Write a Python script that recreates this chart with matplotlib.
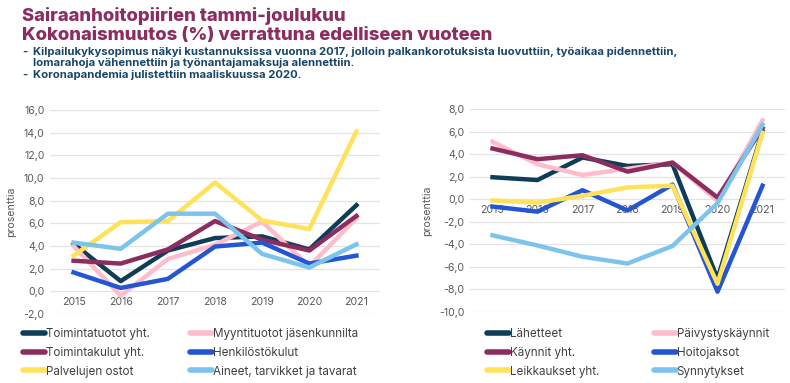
import matplotlib.pyplot as plt
from matplotlib.lines import Line2D

plt.rcParams['font.family'] = ['Inter', 'DejaVu Sans']

years = ['2015', '2016', '2017', '2018', '2019', '2020', '2021']

# vasen kuva: talous
left_names = ['Toimintatuotot yht.', 'Myyntituotot jäsenkunnilta', 'Toimintakulut yht.',
              'Henkilöstökulut', 'Palvelujen ostot', 'Aineet, tarvikket ja tavarat']
toimintatuotot = [4.2, 0.9, 3.6, 4.7, 4.85, 3.7, 7.6]
myyntituotot = [4.0, -0.4, 2.85, 4.1, 6.15, 2.2, 6.45]
toimintakulut = [2.7, 2.45, 3.7, 6.2, 4.55, 3.6, 6.65]
henkilostokulut = [1.67, 0.3, 1.1, 3.95, 4.3, 2.45, 3.15]
palvelujen_ostot = [3.15, 6.1, 6.2, 9.6, 6.25, 5.5, 14.1]
aineet = [4.3, 3.75, 6.85, 6.85, 3.3, 2.1, 4.15]

# oikea kuva: toiminta
right_names = ['Lähetteet', 'Päivystyskäynnit', 'Käynnit yht.',
               'Hoitojaksot', 'Leikkaukset yht.', 'Synnytykset']
lahetteet = [1.95, 1.7, 3.7, 2.95, 3.1, -7.05, 6.0]
paivystys = [5.1, 3.1, 2.15, 2.7, 3.25, -0.15, 7.0]
kaynnit = [4.5, 3.55, 3.9, 2.45, 3.25, 0.15, 6.3]
hoitojaksot = [-0.65, -1.1, 0.8, -1.0, 1.3, -8.2, 1.2]
leikkaukset = [-0.1, -0.3, 0.3, 1.05, 1.2, -7.5, 5.9]
synnytykset = [-3.2, -4.1, -5.1, -5.7, -4.15, -0.35, 6.6]

colors = ['#0f3d58', '#ffbccb', '#8c2d5f', '#2456d3', '#ffe15a', '#7cc3ee']
title_col = '#8c2d5f'
navy = '#17466a'
W, H = 790, 383

fig = plt.figure(figsize=(7.9, 3.83), dpi=100)

fig.text(22 / W, 1 - 16 / H, 'Sairaanhoitopiirien tammi-joulukuu', color=title_col,
         fontsize=13.3, fontweight='heavy', va='center')
fig.text(22 / W, 1 - 35 / H, 'Kokonaismuutos (%) verrattuna edelliseen vuoteen', color=title_col,
         fontsize=13.3, fontweight='heavy', va='center')
notes = [('-', 'Kilpailukykysopimus näkyi kustannuksissa vuonna 2017, jolloin palkankorotuksista luovuttiin, työaikaa pidennettiin,'),
         ('', 'lomarahoja vähennettiin ja työnantajamaksuja alennettiin.'),
         ('-', 'Koronapandemia julistettiin maaliskuussa 2020.')]
for (dash, t), y in zip(notes, [52, 63.5, 75]):
    fig.text(22 / W, 1 - y / H, dash, color=navy, fontsize=8.15, fontweight='bold', va='center')
    fig.text(33 / W, 1 - y / H, t, color=navy, fontsize=8.15, fontweight='bold', va='center')


def style(ax, lo, hi, step):
    ax.set_xticks(range(len(years)))
    ax.set_xticklabels(years)
    ticks = [lo + step * i for i in range(int((hi - lo) / step) + 1)]
    ax.set_yticks(ticks)
    ax.set_yticklabels([f'{v:.1f}'.replace('.', ',') for v in ticks])
    ax.set_ylim(lo, hi)
    ax.set_xlim(-0.5, 6.5)
    ax.grid(axis='y', color='#e3e3e3', lw=0.9)
    ax.set_axisbelow(True)
    for s in ['top', 'right', 'left']:
        ax.spines[s].set_visible(False)
    ax.spines['bottom'].set_position(('data', 0))
    ax.spines['bottom'].set_visible(False)
    ax.tick_params(length=0, labelsize=7.6, colors='#595959', pad=4)
    ax.set_ylabel('prosenttia', fontsize=7.6, color='#595959', labelpad=5)


handles = [Line2D([], [], color=c, lw=4, solid_capstyle='round') for c in colors]


def legend_col(idx, names, x, y):
    fig.legend([handles[i] for i in idx], [names[i] for i in idx],
               loc='upper left', bbox_to_anchor=(x / W, 1 - y / H), frameon=False,
               fontsize=8.4, handlelength=1.9, handletextpad=0.05, labelspacing=0.58,
               borderpad=0, borderaxespad=0, labelcolor='#404040')


ax1 = fig.add_axes([50 / W, 1 - 314 / H, 330 / W, 204 / H])
for vals, c in zip([toimintatuotot, myyntituotot, toimintakulut, henkilostokulut,
                    palvelujen_ostot, aineet], colors):
    ax1.plot(range(len(years)), vals, color=c, lw=3.2)
style(ax1, -2, 16, 2)
legend_col([0, 2, 4], left_names, 23, 328)
legend_col([1, 3, 5], left_names, 190, 328)

ax2 = fig.add_axes([470 / W, 1 - 312 / H, 315 / W, 203 / H])
for vals, c in zip([lahetteet, paivystys, kaynnit, hoitojaksot, leikkaukset, synnytykset], colors):
    ax2.plot(range(len(years)), vals, color=c, lw=3.2)
style(ax2, -10, 8, 2)
legend_col([0, 2, 4], right_names, 487, 328)
legend_col([1, 3, 5], right_names, 654, 328)

fig.savefig('out.png', dpi=100)
